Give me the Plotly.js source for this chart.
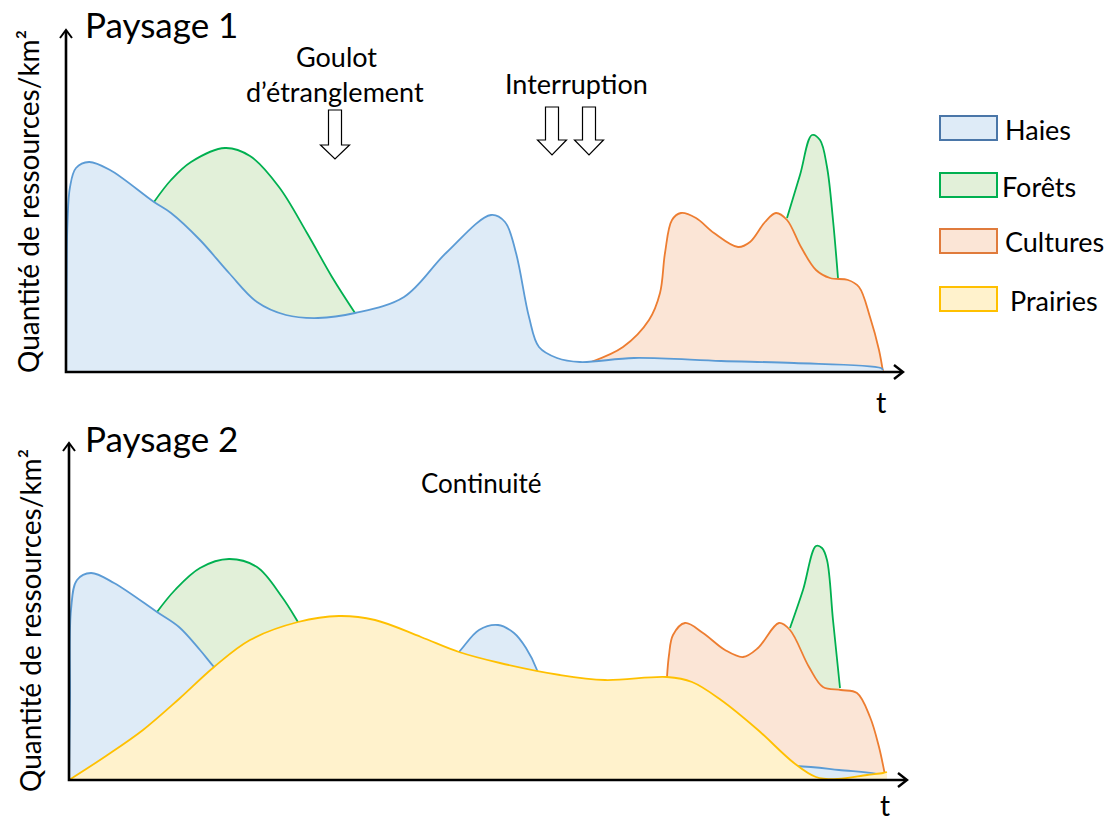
<!DOCTYPE html>
<html>
<head>
<meta charset="utf-8">
<script src="https://cdn.plot.ly/plotly-3.0.1.min.js"></script>
<style>html,body{margin:0;padding:0;background:#fff;}#chart{width:1109px;height:823px;}</style>
</head>
<body>
<div id="chart"></div>
<script>
// ---------- DATA (arbitrary schematic units: t along x, resources along y) ----------
const seriesNames = ["Haies", "Forêts", "Cultures", "Prairies"];

// Paysage 1
const p1_haies_t = [0, 0.6, 1.5, 4, 10, 23, 44, 88, 105, 134, 163, 191, 220, 252, 289, 338, 380, 425, 439, 450, 463, 473, 491, 514, 568, 655, 728, 815, 817];
const p1_haies_v = [0, 90, 150, 185, 204, 210, 202, 170, 159, 132, 99, 70, 57, 54, 59, 75, 119, 157, 150, 119, 55, 25, 14, 10, 14, 11, 9, 4, 2];

const p1_forets_t = [88, 105, 125, 159, 184, 213, 241, 266, 289, null, 721, 734, 746, 754, 761, 767, 772];
const p1_forets_v = [170, 192, 210, 224, 216, 185, 139, 95, 59, null, 154, 197, 237, 232, 205, 152, 94];

const p1_cultures_t = [525, 557, 583, 594, 599, 606, 615, 630, 648, 672, 684, 699, 710, 721, 735, 750, 764, 782, 793, 804, 813, 817];
const p1_cultures_v = [10, 25, 52, 79, 119, 152, 159, 154, 139, 125, 130, 150, 159, 152, 125, 102, 94, 92, 85, 55, 22, 0];

// Paysage 2
const p2_haies_t = [0, 1, 2, 8, 22, 45, 88, 110, 131, 145, 171, 211, 261, 331, 371, 390, 410, 429, 445, 457, 468, 481, 496, 521, 631, 727, 770, 812, 815];
const p2_haies_v = [0, 80, 170, 200, 207, 197, 168, 153, 130, 113, 85, 68, 68, 85, 108, 128, 150, 155, 147, 132, 110, 60, 25, 15, 14, 14, 10, 5, 2];

const p2_forets_t = [88, 106, 131, 160, 188, 213, 229, 251, 271, 311, 331, null, 721, 734, 747, 753, 758, 764, 771];
const p2_forets_v = [168, 190, 212, 221, 213, 183, 158, 120, 80, 10, 0, null, 152, 190, 234, 232, 220, 160, 92];

const p2_cultures_t = [598, 600, 604, 616, 634, 656, 674, 689, 710, 721, 740, 754, 772, 788, 801, 810, 815, 817];
const p2_cultures_v = [103, 125, 145, 157, 147, 130, 123, 132, 157, 150, 113, 93, 90, 87, 63, 33, 10, 0];

const p2_prairies_t = [0, 37, 74, 110, 145, 181, 229, 270, 306, 352, 390, 431, 491, 536, 598, 623, 652, 689, 725, 747, 769, 798, 814, 818];
const p2_prairies_v = [0, 24, 50, 81, 113, 140, 158, 164, 160, 143, 128, 117, 105, 100, 103, 98, 80, 50, 17, 3, 1, 5, 7, 8];

const annotationsText = {
  title1: "Paysage 1",
  title2: "Paysage 2",
  ytitle: "Quantité de ressources/km²",
  goulot1: "Goulot",
  goulot2: "d’étranglement",
  interruption: "Interruption",
  continuite: "Continuité",
  xtitle: "t"
};

// ---------- STYLES ----------
const lineColors = {"Haies": "#5B9BD5", "Forêts": "#00B050", "Cultures": "#ED7D31", "Prairies": "#FFC000"};
const fillColors = {"Haies": "#DEEBF7", "Forêts": "#E2F0D9", "Cultures": "#FBE5D6", "Prairies": "#FFF2CC"};
const legendBorders = {"Haies": "#4A76A8", "Forêts": "#00B050", "Cultures": "#E07B3C", "Prairies": "#FFC000"};

const W = 1109, H = 823;
const FONT = 'Lato, "Open Sans", sans-serif';
const fx = p => p / W;
const fy = p => 1 - p / H;

// split a series at null gaps so that each piece is filled on its own
function pieces(t, v) {
  const out = [];
  let ct = [], cv = [];
  t.forEach((x, i) => {
    if (x === null || v[i] === null) { if (ct.length) out.push([ct, cv]); ct = []; cv = []; }
    else { ct.push(x); cv.push(v[i]); }
  });
  if (ct.length) out.push([ct, cv]);
  return out;
}

function areas(name, t, v, xa, ya) {
  return pieces(t, v).map(([pt, pv]) => ({
    type: 'scatter', mode: 'lines', x: pt, y: pv, name: name,
    xaxis: xa, yaxis: ya,
    line: {shape: 'spline', smoothing: 1, color: lineColors[name], width: 1.8},
    fill: 'tozeroy', fillcolor: fillColors[name],
    showlegend: false, hoverinfo: 'skip'
  }));
}

const traces = [].concat(
  areas("Forêts", p1_forets_t, p1_forets_v, 'x', 'y'),
  areas("Cultures", p1_cultures_t, p1_cultures_v, 'x', 'y'),
  areas("Haies", p1_haies_t, p1_haies_v, 'x', 'y'),
  areas("Forêts", p2_forets_t, p2_forets_v, 'x2', 'y2'),
  areas("Cultures", p2_cultures_t, p2_cultures_v, 'x2', 'y2'),
  areas("Haies", p2_haies_t, p2_haies_v, 'x2', 'y2'),
  areas("Prairies", p2_prairies_t, p2_prairies_v, 'x2', 'y2')
);

function axisX(domainPx, range) {
  return {domain: [fx(domainPx[0]), fx(domainPx[1])], range: range, showgrid: false, zeroline: false,
    showticklabels: false, ticks: '', showline: false, fixedrange: true};
}
function axisY(domainPx, range) {
  return {domain: [fy(domainPx[0]), fy(domainPx[1])], range: range, showgrid: false, zeroline: false,
    showticklabels: false, ticks: '', showline: false, fixedrange: true};
}

// panels (pixel frame): left, right, bottom, top
const panels = [
  {l: 66, r: 903, b: 372, t: 30},
  {l: 69, r: 907, b: 780, t: 443}
];

const shapes = [];
function pathPx(pts, close) {
  return pts.map((p, i) => (i ? 'L' : 'M') + fx(p[0]).toFixed(5) + ',' + fy(p[1]).toFixed(5)).join(' ') + (close ? ' Z' : '');
}
panels.forEach(P => {
  shapes.push({type: 'path', xref: 'paper', yref: 'paper', path: pathPx([[P.l, P.t + 1], [P.l, P.b], [P.r - 1, P.b]]), line: {color: '#000', width: 2.6}});
  shapes.push({type: 'path', xref: 'paper', yref: 'paper', path: pathPx([[P.l - 6, P.t + 8], [P.l, P.t], [P.l + 6, P.t + 8]]), line: {color: '#000', width: 2}});
  shapes.push({type: 'path', xref: 'paper', yref: 'paper', path: pathPx([[P.r - 9, P.b - 7], [P.r, P.b], [P.r - 9, P.b + 7]]), line: {color: '#000', width: 2.4}});
});

function downArrow(cx, top, shaftBottom, tip, shaftHalf, headHalf) {
  return {type: 'path', xref: 'paper', yref: 'paper', fillcolor: '#fff', line: {color: '#000', width: 1.2},
    path: pathPx([[cx - shaftHalf, top], [cx + shaftHalf, top], [cx + shaftHalf, shaftBottom], [cx + headHalf, shaftBottom],
      [cx, tip], [cx - headHalf, shaftBottom], [cx - shaftHalf, shaftBottom]], true)};
}
shapes.push(downArrow(335, 110, 145, 159, 6.5, 14.5));
shapes.push(downArrow(552, 107, 140, 155, 6.5, 14.5));
shapes.push(downArrow(589, 107, 140, 155, 6.5, 14.5));

const legendRowsTop = [116, 173, 229, 287];
const legendTextX = [1003, 1000, 1003, 1008];
const annotations = [];
seriesNames.forEach((n, i) => {
  shapes.push({type: 'rect', xref: 'paper', yref: 'paper', x0: fx(940), x1: fx(997), y0: fy(legendRowsTop[i] + 24), y1: fy(legendRowsTop[i]),
    fillcolor: fillColors[n], line: {color: legendBorders[n], width: 2}});
  annotations.push({xref: 'paper', yref: 'paper', x: fx(legendTextX[i]), y: fy(legendRowsTop[i] + 13), xanchor: 'left', yanchor: 'middle',
    text: n, showarrow: false, font: {family: FONT, size: 27, color: '#000'}});
});

function txt(text, x, y, size, opts) {
  return Object.assign({xref: 'paper', yref: 'paper', x: fx(x), y: fy(y), text: text, showarrow: false,
    xanchor: 'center', yanchor: 'middle', font: {family: FONT, size: size, color: '#000'}}, opts || {});
}
annotations.push(txt(annotationsText.title1, 83, 24, 35, {xanchor: 'left'}));
annotations.push(txt(annotationsText.title2, 83, 438, 35, {xanchor: 'left'}));
annotations.push(txt(annotationsText.ytitle, 28, 202, 28, {textangle: -90}));
annotations.push(txt(annotationsText.ytitle, 30, 621, 28, {textangle: -90}));
annotations.push(txt(annotationsText.goulot1, 336, 57, 27));
annotations.push(txt(annotationsText.goulot2, 335, 91, 27));
annotations.push(txt(annotationsText.interruption, 576, 84, 27));
annotations.push(txt(annotationsText.continuite, 481, 483, 26));
annotations.push(txt(annotationsText.xtitle, 881, 401, 29));
annotations.push(txt(annotationsText.xtitle, 885, 805, 28, {borderpad: 0}));

const layout = {
  width: W, height: H,
  margin: {l: 0, r: 0, t: 0, b: 0},
  paper_bgcolor: '#fff', plot_bgcolor: 'rgba(0,0,0,0)',
  showlegend: false,
  xaxis: axisX([panels[0].l, panels[0].r], [0, panels[0].r - panels[0].l]),
  yaxis: axisY([panels[0].b, panels[0].t], [0, panels[0].b - panels[0].t]),
  xaxis2: axisX([panels[1].l, panels[1].r], [0, panels[1].r - panels[1].l]),
  yaxis2: axisY([panels[1].b, panels[1].t], [0, panels[1].b - panels[1].t]),
  shapes: shapes,
  annotations: annotations
};

Plotly.newPlot('chart', traces, layout, {staticPlot: true, displayModeBar: false});
</script>
</body>
</html>
